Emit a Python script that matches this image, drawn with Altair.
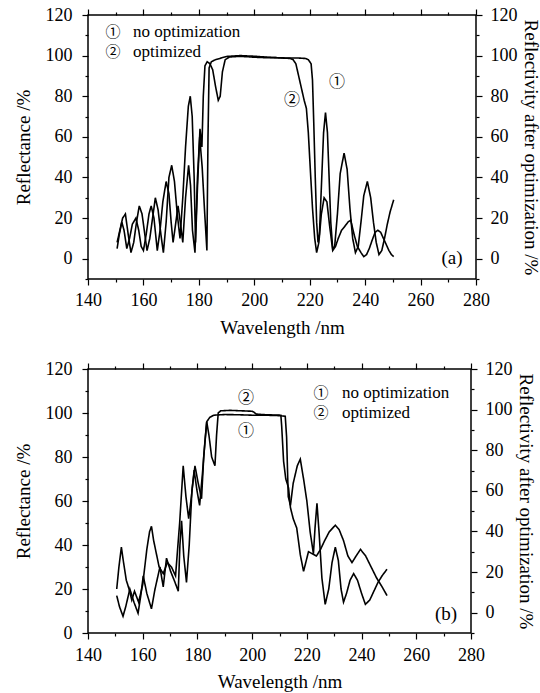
import altair as alt
import pandas as pd

# ---------------- data ----------------
# panel (a), curve 1: no optimization
a1_wl = [150.5, 151.5, 152.5, 153.5, 154.5, 155.5, 156.5, 157.5, 158.5, 159.5, 160.5, 161.3,
         162.3, 163.3, 164.3, 165.3, 166.3, 167.2, 168.2, 169.2, 170.2, 171.2, 172.2, 173.2,
         174.2, 175.2, 176.2, 176.9, 177.6, 178.3, 178.8, 179.5, 180.4, 181.1, 181.6, 182.2,
         183.0, 184.0, 185.0, 186.0, 187.0, 187.7, 188.5, 189.5, 191.0, 194.0, 197.0, 200.0,
         204.0, 208.0, 212.0, 216.0, 218.5, 219.5, 220.5, 221.0, 221.5, 222.0, 222.5, 223.0,
         223.5, 224.2, 225.0, 225.7, 226.4, 227.0, 227.6, 228.3, 229.0, 230.0, 231.0, 232.4,
         233.5, 234.5, 235.5, 236.5, 237.5, 238.5, 239.5, 240.8, 242.0, 243.0, 244.0, 245.0,
         246.0, 247.0, 248.0, 249.0, 250.3]
a1_r = [8, 14, 20, 22, 12, 3, 8, 18, 26, 22, 12, 4,
        10, 20, 30, 24, 12, 3, 18, 40, 46, 38, 22, 10,
        30, 55, 75, 80, 70, 40, 8, 35, 64, 55, 80, 95,
        97, 96, 93, 85, 78, 80, 92, 98, 99.3, 99.6, 99.5, 99.2,
        99, 99, 98.8, 98.8, 98.6, 98, 96, 88, 65, 40, 18, 8,
        12, 35, 62, 72, 62, 40, 18, 5, 6, 22, 42, 52,
        44, 25, 10, 3, 6, 18, 31, 38, 30, 18, 8, 2,
        4, 10, 17, 23, 29]

# panel (a), curve 2: optimized
a2_wl = [150.5, 151.3, 152.2, 153.0, 154.0, 155.0, 156.0, 157.3, 158.3, 159.2, 160.0, 161.0,
         162.0, 162.8, 163.8, 165.0, 166.0, 167.0, 168.2, 169.2, 170.0, 170.7, 171.7, 172.5,
         173.3, 174.2, 175.2, 176.3, 177.0, 177.7, 178.6, 179.5, 180.3, 181.2, 182.0, 182.9,
         183.3, 183.7, 184.5, 186.0, 190.0, 195.0, 200.0, 205.0, 210.0, 213.0, 214.0, 215.0,
         216.0, 217.0, 218.0, 218.8, 219.5, 220.3, 221.0, 221.8, 222.5, 223.3, 224.2, 225.2,
         226.2, 227.2, 228.3, 229.3, 230.3, 231.5, 232.7, 233.8, 234.8, 236.0, 237.2, 238.5,
         239.5, 240.5, 241.5, 242.5, 243.6, 244.6, 245.6, 246.6, 247.6, 248.6, 249.5, 250.3]
a2_r = [5, 12, 18, 14, 5, 10, 17, 20, 14, 6, 4, 12,
        22, 26, 20, 4, 14, 28, 38, 32, 18, 8, 18, 26,
        18, 8, 30, 46, 36, 14, 3, 40, 60, 45, 25, 4,
        60, 94, 97, 98, 99.6, 100, 99.7, 99.2, 98.8, 98.6, 98, 96,
        90, 84, 78, 74, 62, 42, 25, 10, 3, 8, 22, 30,
        28, 16, 4, 6, 10, 14, 16, 18, 19, 12, 6, 3,
        1, 2, 5, 9, 13, 14, 13, 10, 7, 4, 2, 1]

# panel (b), curve 1: no optimization (solid)
b1_wl = [150.5, 151.5, 152.8, 153.8, 155.3, 156.8, 158.3, 159.3, 160.2, 161.5, 163.2, 164.5,
         166.3, 167.5, 168.7, 170.2, 171.5, 173.0, 173.6, 174.2, 175.0, 176.0, 177.0, 178.0,
         179.1, 180.3, 181.5, 182.3, 183.4, 184.5, 186.0, 190.0, 195.0, 200.0, 205.0, 210.0,
         212.1, 212.6, 213.2, 214.0, 215.0, 216.5, 217.6, 218.8, 220.0, 221.2, 222.4, 223.0,
         223.7, 224.5, 225.5, 226.7, 228.0, 229.2, 230.4, 231.5, 232.5, 233.4, 234.5, 235.8,
         237.1, 238.5, 240.0, 241.4, 243.0, 244.5, 246.0, 247.5, 249.3]
b1_r = [17, 12, 7.6, 12, 20, 14, 9, 17, 26, 18, 11, 20,
        30, 21, 34, 28, 24, 19, 40, 51, 35, 23, 40, 65,
        76, 68, 61, 80, 96, 98, 99, 99.3, 99.2, 99, 99, 98.8,
        98.5, 89, 62, 58, 68, 76, 79, 70, 60, 46, 36, 48,
        59, 45, 25, 13, 20, 32, 39, 33, 20, 14, 18, 24,
        27, 24, 18, 13, 15, 19, 23, 26, 29]

# panel (b), curve 2: optimized (dotted)
b2_wl = [150.5, 151.3, 152.2, 153.0, 154.0, 155.0, 156.0, 157.0, 158.5, 160.0, 161.5, 162.5,
         163.2, 164.0, 165.0, 166.0, 167.5, 169.0, 170.5, 172.0, 173.5, 174.8, 175.8, 176.8,
         177.8, 178.8, 179.8, 180.8, 181.8, 182.8, 183.4, 184.2, 185.2, 186.4, 187.0, 187.6,
         188.5, 192.0, 196.0, 200.0, 200.5, 201.5, 205.0, 210.5, 210.8, 211.5, 212.3, 213.3,
         214.0, 215.0, 216.3, 217.6, 218.8, 219.8, 220.6, 222.0, 223.5, 225.0, 226.5, 228.2,
         230.4, 231.8, 233.4, 235.0, 236.5, 238.0, 239.6, 241.5, 243.5, 245.5, 247.5, 249.3]
b2_r = [20, 30, 39, 32, 24, 20, 15, 19, 14, 22, 38, 46,
        48.5, 42, 36, 30, 27, 32, 30, 26, 50, 76, 62, 52,
        62, 74, 65, 58, 72, 88, 96, 90, 80, 76, 90, 100,
        101, 101.2, 101, 100.8, 100.5, 99.5, 99.2, 99, 94, 78, 70, 66,
        57, 52, 47.7, 35.6, 28, 33, 37, 36, 35, 38, 42, 46,
        49, 47, 42, 35, 32, 35, 38, 35, 30, 25, 21, 17]

x_ticks = [140, 150, 160, 170, 180, 190, 200, 210, 220, 230, 240, 250, 260, 270, 280]
y_ticks_a = [-10, 0, 10, 20, 30, 40, 50, 60, 70, 80, 90, 100, 110, 120]
y_ticks_b = [0, 10, 20, 30, 40, 50, 60, 70, 80, 90, 100, 110, 120]
y_ticks_right = [-10, 0, 10, 20, 30, 40, 50, 60, 70, 80, 90, 100, 110, 120]

legend_1 = "no optimization"
legend_2 = "optimized"

SERIF = "Liberation Serif"
CIRC = "Noto Sans CJK SC"

MAJOR = "datum.value % 20 === 0"
tick_size = {"condition": {"test": MAJOR, "value": 6}, "value": 3}
label_expr = "datum.value % 20 === 0 ? datum.label : ''"


def make_df(wl1, r1, wl2, r2):
    d1 = pd.DataFrame({"wl": wl1, "r": r1, "series": "1"})
    d2 = pd.DataFrame({"wl": wl2, "r": r2, "series": "2"})
    return pd.concat([d1, d2], ignore_index=True)


def axis_common(**kw):
    base = dict(domain=False, grid=False, tickColor="black", tickWidth=1.2,
                tickSize=tick_size, labelFont=SERIF, labelFontSize=18,
                labelColor="black", titleFont=SERIF, titleFontSize=19,
                titleFontWeight="normal", titleColor="black", labelExpr=label_expr,
                labelFlush=False, labelOverlap=False)
    base.update(kw)
    return alt.Axis(**base)


def txt(x, y, s, font=SERIF, size=17, align="left"):
    return alt.Chart(alt.Data(values=[{}])).mark_text(
        font=font, fontSize=size, align=align, baseline="middle", color="black"
    ).encode(x=alt.value(x), y=alt.value(y), text=alt.value(s))


def panel(df, ydom, yticks, width, dashes, notes, xlab_pad, xtitle_pad):
    xs = alt.Scale(domain=[140, 280], nice=False, zero=False)
    lines = alt.Chart(df).mark_line(color="black", strokeWidth=1.6).encode(
        x=alt.X("wl:Q", scale=xs,
                axis=axis_common(values=x_ticks, title="Wavelength /nm",
                                 labelPadding=xlab_pad, titlePadding=xtitle_pad,
                                 orient="bottom")),
        y=alt.Y("r:Q", scale=alt.Scale(domain=ydom, nice=False, zero=False),
                axis=axis_common(values=yticks, title="Reflectance /%",
                                 labelPadding=10, titlePadding=12, orient="left")),
        strokeDash=alt.StrokeDash("series:N",
                                  scale=alt.Scale(domain=["1", "2"], range=dashes),
                                  legend=None),
        order="wl:Q",
    )
    ghost = alt.Chart(df).mark_point(opacity=0).encode(
        x=alt.X("wl:Q", scale=xs,
                axis=axis_common(values=x_ticks, title=None, labels=False, orient="top")),
        y=alt.Y("r:Q", scale=alt.Scale(domain=[-10, 120], nice=False, zero=False),
                axis=axis_common(values=y_ticks_right,
                                 title="Reflectivity after optimization /%",
                                 labelPadding=8, titlePadding=3, orient="right")),
    )
    layers = [lines, ghost] + [txt(*n) for n in notes]
    return alt.layer(*layers).resolve_scale(y="independent").resolve_axis(
        x="independent", y="independent").properties(width=width, height=264)


df_a = make_df(a1_wl, a1_r, a2_wl, a2_r)
df_b = make_df(b1_wl, b1_r, b2_wl, b2_r)

notes_a = [
    (25, 17, "①", CIRC, 15, "center"), (45, 17, legend_1),
    (25, 37, "②", CIRC, 15, "center"), (45, 37, legend_2),
    (249, 67, "①", CIRC, 16, "center"),
    (204, 85, "②", CIRC, 16, "center"),
    (364, 243, "(a)", SERIF, 19, "center"),
]
notes_b = [
    (233, 24, "①", CIRC, 15, "center"), (254, 24, legend_1),
    (233, 44, "②", CIRC, 15, "center"), (254, 44, legend_2),
    (158, 29, "②", CIRC, 16, "center"),
    (158, 62, "①", CIRC, 16, "center"),
    (358, 245, "(b)", SERIF, 19, "center"),
]

top = panel(df_a, [-10, 120], y_ticks_a, 388, [[1, 0], [1, 0]], notes_a, 6, 9)
bottom = panel(df_b, [0, 120], y_ticks_b, 383, [[1, 0], [2, 2]], notes_b, 7, 8)

chart = alt.vconcat(top, bottom, spacing=21).properties(
    padding={"left": 13, "top": 5, "right": 0, "bottom": 0}
).configure(font=SERIF, background="white").configure_view(stroke="black", strokeWidth=1.5)

chart.save("out.html", embed_options={"renderer": "svg", "actions": False})
